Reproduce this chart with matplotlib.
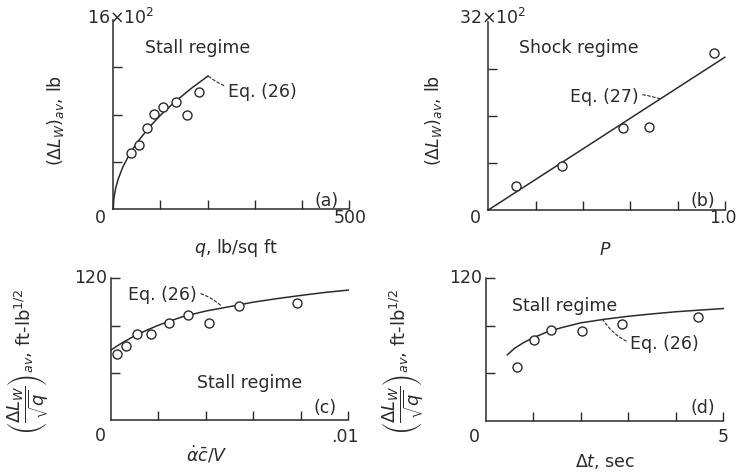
import matplotlib.pyplot as plt

W, H = 749, 473
INK = '#2b2b2b'

# (a) stall regime, load vs dynamic pressure
q_pts = [37, 55, 71, 87, 106, 133, 156, 182]
dlw_a = [473, 544, 685, 803, 863, 905, 797, 995]
q_curve = [0, 1, 2, 5, 10, 20, 35, 50, 75, 100, 130, 165, 201]
dlw_a_curve = [0, 80, 112, 178, 251, 356, 470, 562, 688, 795, 906, 1021, 1127]

# (b) shock regime, load vs P
p_pts = [0.117, 0.311, 0.569, 0.681, 0.953]
dlw_b = [409, 754, 1390, 1408, 2667]
p_line = [0, 1.0]
dlw_b_line = [0, 2600]

# (c) normalized load vs pitch rate parameter
ad_pts = [0.00027, 0.00063, 0.00111, 0.00169, 0.00245, 0.00324, 0.00411, 0.00541, 0.00784]
norm_c = [55.8, 62.6, 72.5, 72.7, 82.3, 88.8, 81.8, 96.7, 99.2]
ad_curve = [0, 0.00025, 0.0005, 0.001, 0.0015, 0.002, 0.003, 0.004, 0.005, 0.006, 0.007, 0.008, 0.009, 0.010]
norm_c_curve = [59.2, 62.6, 65.7, 71.3, 76.0, 80.3, 87.4, 92.3, 96.0, 99.8, 102.8, 105.5, 108.0, 110.0]

# (d) normalized load vs time
dt_pts = [0.65, 1.02, 1.38, 2.02, 2.87, 4.46]
norm_d = [45.6, 68.2, 76.6, 75.2, 81.4, 87.3]
dt_curve = [0.45, 0.6, 0.8, 1.0, 1.3, 1.6, 2.0, 2.5, 3.0, 3.5, 4.0, 4.5, 5.0]
norm_d_curve = [55.5, 61.0, 66.0, 70.0, 75.0, 78.5, 82.5, 85.5, 88.0, 90.0, 91.8, 93.2, 94.5]

plt.rcParams['font.family'] = 'DejaVu Sans'
plt.rcParams['mathtext.fontset'] = 'dejavusans'
plt.rcParams['text.color'] = INK

FS = 12.5


def rect(x0, y_top, x1, y_bot):
    return [x0 / W, 1 - y_bot / H, (x1 - x0) / W, (y_bot - y_top) / H]


def ftext(fig, x, y, s, **kw):
    kw.setdefault('ha', 'center')
    kw.setdefault('va', 'center')
    kw.setdefault('fontsize', FS)
    fig.text(x / W, 1 - y / H, s, **kw)


def setup(ax, xmax, ymax, xticks, yticks):
    ax.set_xlim(0, xmax)
    ax.set_ylim(0, ymax)
    for s in ['top', 'right']:
        ax.spines[s].set_visible(False)
    for s in ['left', 'bottom']:
        ax.spines[s].set_linewidth(1.1)
        ax.spines[s].set_color(INK)
    ax.set_xticks(xticks)
    ax.set_yticks(yticks)
    ax.tick_params(direction='in', length=6.5, width=1.0, color=INK,
                   labelbottom=False, labelleft=False)
    ax.patch.set_alpha(0)


def leader(ax, label, xy, xytext, rad):
    ax.annotate(label, xy=xy, xytext=xytext, ha='left', va='center', fontsize=FS,
                arrowprops=dict(arrowstyle='-', linestyle=(0, (2.5, 2)), lw=0.8,
                                color=INK, shrinkA=1, shrinkB=0,
                                connectionstyle='arc3,rad=%s' % rad))


mk = dict(marker='o', ms=6.5, mfc='white', mec=INK, mew=1.0, ls='none', clip_on=False, zorder=3)
ln = dict(color=INK, lw=1.1, clip_on=False)

ylab_norm = r'$\left(\dfrac{\Delta L_W}{\sqrt{q}}\right)_{av}$, ft-lb$^{1/2}$'

fig = plt.figure(figsize=(W / 100, H / 100), dpi=100)

# panel (a)
ax = fig.add_axes(rect(113.3, 20, 349, 209.3))
setup(ax, 500, 1600, [100, 200, 300, 400, 500], [400, 800, 1200])
ax.plot(q_curve, dlw_a_curve, **ln)
ax.plot(q_pts, dlw_a, **mk)
ax.text(67, 1364, 'Stall regime', ha='left', va='center', fontsize=FS)
ax.text(427, 70, '(a)', ha='left', va='center', fontsize=FS)
leader(ax, 'Eq. (26)', (201, 1127), (243, 995), '-0.2')
ftext(fig, 100, 218, '0')
ftext(fig, 350, 218, '500')
ftext(fig, 121, 18, r'16$\times$10$^2$')
ftext(fig, 236, 248, r'$q$, lb/sq ft')
ftext(fig, 56, 121, r'$(\Delta L_W)_{av}$, lb', rotation=90)

# panel (b)
ax = fig.add_axes(rect(488.3, 22, 724.8, 210))
setup(ax, 1.0, 3200, [0.2, 0.4, 0.6, 0.8, 1.0], [800, 1600, 2400])
ax.plot(p_line, dlw_b_line, **ln)
ax.plot(p_pts, dlw_b, **mk)
ax.text(0.13, 2757, 'Shock regime', ha='left', va='center', fontsize=FS)
ax.text(0.853, 153, '(b)', ha='left', va='center', fontsize=FS)
leader(ax, 'Eq. (27)', (0.727, 1890), (0.345, 1923), '-0.15')
ftext(fig, 475, 218, '0')
ftext(fig, 723, 218, '1.0')
ftext(fig, 493, 18, r'32$\times$10$^2$')
ftext(fig, 605, 250, r'$P$')
ftext(fig, 433, 121, r'$(\Delta L_W)_{av}$, lb', rotation=90)

# panel (c)
ax = fig.add_axes(rect(111, 278.3, 348.3, 420))
setup(ax, 0.01, 120, [0.002, 0.004, 0.006, 0.008, 0.01], [40, 80, 120])
ax.plot(ad_curve, norm_c_curve, **ln)
ax.plot(ad_pts, norm_c, **mk)
ax.text(0.00363, 31.3, 'Stall regime', ha='left', va='center', fontsize=FS)
ax.text(0.00852, 10.1, '(c)', ha='left', va='center', fontsize=FS)
leader(ax, 'Eq. (26)', (0.00467, 96.3), (0.00072, 105.7), '-0.3')
ftext(fig, 100, 436, '0')
ftext(fig, 345, 437, '.01')
ftext(fig, 107, 278, '120', ha='right')
ftext(fig, 207, 455, r'$\dot{\alpha}\bar{c}/V$')
ftext(fig, 28, 362, ylab_norm, rotation=90, fontsize=13)

# panel (d)
ax = fig.add_axes(rect(486, 278.3, 723.3, 420.7))
setup(ax, 5, 120, [1, 2, 3, 4, 5], [40, 80, 120])
ax.plot(dt_curve, norm_d_curve, **ln)
ax.plot(dt_pts, norm_d, **mk)
ax.text(0.55, 97, 'Stall regime', ha='left', va='center', fontsize=FS)
ax.text(4.30, 10.7, '(d)', ha='left', va='center', fontsize=FS)
leader(ax, 'Eq. (26)', (2.46, 85.2), (3.04, 64.9), '-0.35')
ftext(fig, 474, 437, '0')
ftext(fig, 723, 437, '5')
ftext(fig, 482, 278, '120', ha='right')
ftext(fig, 605, 461, r'$\Delta t$, sec')
ftext(fig, 403, 362, ylab_norm, rotation=90, fontsize=13)

fig.savefig('out.png', dpi=100)
